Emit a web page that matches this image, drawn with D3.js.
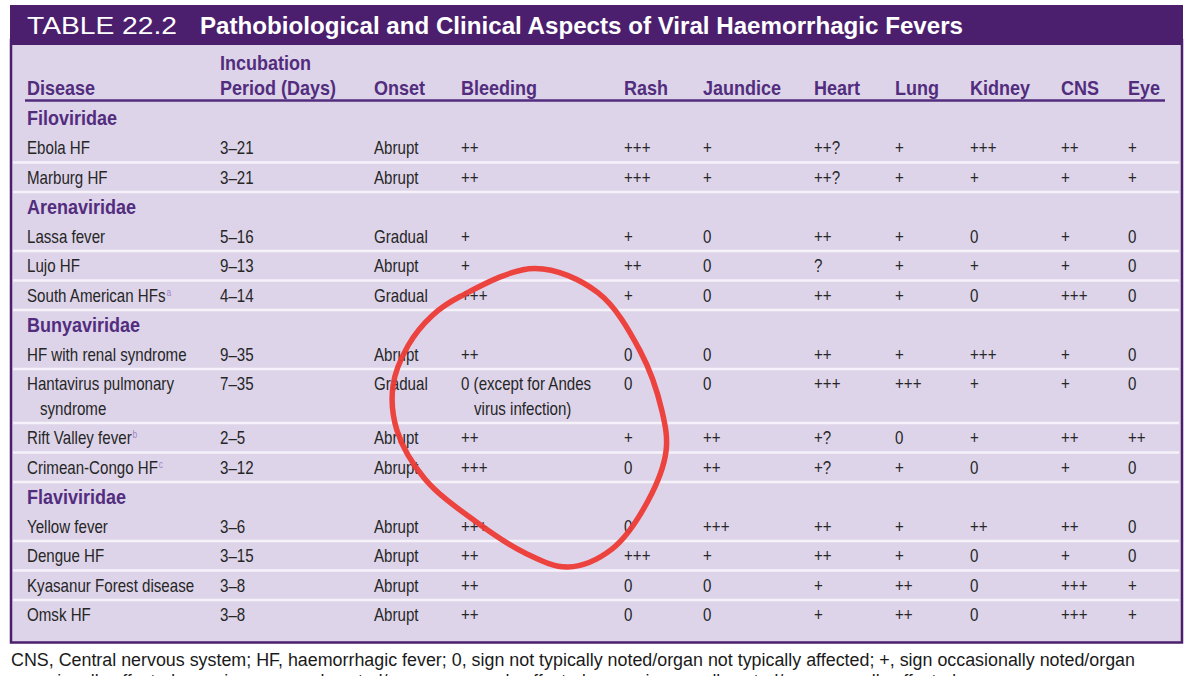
<!DOCTYPE html>
<html>
<head>
<meta charset="utf-8">
<script src="https://cdn.jsdelivr.net/npm/d3@7"></script>
<style>
body { margin: 0; background: #fff; }
svg { display: block; }
</style>
</head>
<body>
<svg id="drawing_region"></svg>
<script>
// table content
const tableNumber = 'TABLE 22.2'
const tableTitle = 'Pathobiological and Clinical Aspects of Viral Haemorrhagic Fevers'
const columns = ['Disease', 'Incubation', 'Onset', 'Bleeding', 'Rash', 'Jaundice', 'Heart', 'Lung', 'Kidney', 'CNS', 'Eye']
const headerLabels = [['Disease'], ['Incubation', 'Period (Days)'], ['Onset'], ['Bleeding'], ['Rash'], ['Jaundice'], ['Heart'], ['Lung'], ['Kidney'], ['CNS'], ['Eye']]
const families = ['Filoviridae', 'Arenaviridae', 'Bunyaviridae', 'Flaviviridae']
const diseases = ['Ebola HF', 'Marburg HF', 'Lassa fever', 'Lujo HF', 'South American HFs',
  'HF with renal syndrome', 'Hantavirus pulmonary\nsyndrome', 'Rift Valley fever', 'Crimean-Congo HF',
  'Yellow fever', 'Dengue HF', 'Kyasanur Forest disease', 'Omsk HF']
const diseaseFamily = [0, 0, 1, 1, 1, 2, 2, 2, 2, 3, 3, 3, 3]
const diseaseNote = ['', '', '', '', 'a', '', '', 'b', 'c', '', '', '', '']
const incubation = ['3–21', '3–21', '5–16', '9–13', '4–14', '9–35', '7–35', '2–5', '3–12', '3–6', '3–15', '3–8', '3–8']
const onset = ['Abrupt', 'Abrupt', 'Gradual', 'Abrupt', 'Gradual', 'Abrupt', 'Gradual', 'Abrupt', 'Abrupt', 'Abrupt', 'Abrupt', 'Abrupt', 'Abrupt']
const bleeding = ['++', '++', '+', '+', '+++', '++', '0 (except for Andes\nvirus infection)', '++', '+++', '+++', '++', '++', '++']
const rash = ['+++', '+++', '+', '++', '+', '0', '0', '+', '0', '0', '+++', '0', '0']
const jaundice = ['+', '+', '0', '0', '0', '0', '0', '++', '++', '+++', '+', '0', '0']
const heart = ['++?', '++?', '++', '?', '++', '++', '+++', '+?', '+?', '++', '++', '+', '+']
const lung = ['+', '+', '+', '+', '+', '+', '+++', '0', '+', '+', '+', '++', '++']
const kidney = ['+++', '+', '0', '+', '0', '+++', '+', '+', '0', '++', '0', '0', '0']
const cns = ['++', '+', '+', '+', '+++', '+', '+', '++', '+', '++', '+', '+++', '+++']
const eye = ['+', '+', '0', '0', '0', '0', '0', '++', '0', '0', '0', '+', '+']
const footnotes = [
  'CNS, Central nervous system; HF, haemorrhagic fever; 0, sign not typically noted/organ not typically affected; +, sign occasionally noted/organ',
  'occasionally affected; ++, sign commonly noted/organ commonly affected; +++, sign usually noted/organ usually affected.'
]
// hand drawn red loop, in units of the box it sits in
const loopShape = [[0.516, 0], [0.745, 0.081], [0.898, 0.275], [0.978, 0.477], [0.993, 0.611], [0.927, 0.779],
  [0.796, 0.94], [0.636, 1], [0.48, 0.953], [0.298, 0.846], [0.116, 0.705], [0.015, 0.544], [0, 0.393],
  [0.055, 0.258], [0.142, 0.158], [0.244, 0.094]]

class ClinicalTable {
  constructor(config) {
    this.config = {
      parent: config.parent,
      width: config.width || 1200,
      height: config.height || 676,
      colX: config.colX,
      rowStart: config.rowStart || 103,
      rowHeight: config.rowHeight || 29.5,
      lineGap: config.lineGap || 24.5
    }
    this.init()
  }

  init() {
    let self = this
    self.svg = d3.select(self.config.parent)
      .attr('width', self.config.width)
      .attr('height', self.config.height)

    self.purple = '#4b1f6e'
    self.ink = '#522d7e'
    self.font = '"Liberation Sans", Arial, Helvetica, sans-serif'

    self.xscale = d3.scaleOrdinal().domain(columns).range(self.config.colX)

    // build rows : family header then its diseases
    self.rows = []
    families.forEach((f, fi) => {
      self.rows.push({ key: f, type: 'family', label: f, first: fi === 0, lines: 1 })
      diseases.forEach((d, i) => {
        if (diseaseFamily[i] !== fi) return
        const cells = [d, incubation[i], onset[i], bleeding[i], rash[i], jaundice[i], heart[i], lung[i], kidney[i], cns[i], eye[i]]
        const lines = d3.max(cells, c => c.split('\n').length)
        const firstInGroup = diseaseFamily.indexOf(fi) === i
        self.rows.push({ key: d, type: 'disease', cells: cells, note: diseaseNote[i], first: firstInGroup, lines: lines })
      })
    })
    let top = self.config.rowStart
    self.rows.forEach(r => {
      r.top = top
      top += self.config.rowHeight + (r.lines - 1) * self.config.lineGap
    })
    self.tableBottom = top
    self.yscale = d3.scaleOrdinal().domain(self.rows.map(r => r.key)).range(self.rows.map(r => r.top))
  }

  // condensed look : squeeze the text sideways
  label(g, x, y, str, size, squeeze, bold, fill) {
    return g.append('text')
      .attr('transform', `translate(${x},${y}) scale(${squeeze},1)`)
      .attr('font-family', this.font)
      .attr('font-size', size)
      .attr('font-weight', bold ? 'bold' : 'normal')
      .attr('fill', fill)
      .text(str)
  }

  render() {
    let self = this
    const c = self.config

    // white page
    self.svg.append('rect').attr('width', c.width).attr('height', c.height).attr('fill', '#fff')

    // lavender panel with border
    self.svg.append('rect')
      .attr('x', 11).attr('y', 40)
      .attr('width', 1171).attr('height', self.tableBottom + 13 - 40)
      .attr('fill', '#ddd4e9')
      .attr('stroke', self.purple)
      .attr('stroke-width', 2.5)

    // title bar
    self.svg.append('rect')
      .attr('x', 10).attr('y', 5)
      .attr('width', 1173).attr('height', 40)
      .attr('fill', self.purple)

    self.svg.append('text')
      .attr('x', 27).attr('y', 34)
      .attr('fill', '#fff')
      .attr('font-family', self.font)
      .attr('font-size', 24)
      .attr('textLength', 150)
      .attr('lengthAdjust', 'spacingAndGlyphs')
      .text(tableNumber)

    self.svg.append('text')
      .attr('x', 200).attr('y', 34)
      .attr('fill', '#fff')
      .attr('font-family', self.font)
      .attr('font-weight', 'bold')
      .attr('font-size', 24)
      .attr('textLength', 763)
      .attr('lengthAdjust', 'spacingAndGlyphs')
      .text(tableTitle)

    // column headers
    const head = self.svg.append('g')
    columns.forEach((col, i) => {
      const lines = headerLabels[i]
      lines.forEach((l, j) => {
        self.label(head, self.xscale(col), 95 - (lines.length - 1 - j) * 25, l, 20, 0.9, true, self.ink)
      })
    })
    head.append('line')
      .attr('x1', 25).attr('x2', 1165)
      .attr('y1', 100.5).attr('y2', 100.5)
      .attr('stroke', self.ink)
      .attr('stroke-width', 2.5)

    // row separators
    self.svg.append('g').selectAll('line')
      .data(self.rows.filter(r => !r.first))
      .join('line')
      .attr('x1', 13).attr('x2', 1179)
      .attr('y1', r => self.yscale(r.key))
      .attr('y2', r => self.yscale(r.key))
      .attr('stroke', '#f6f2fa')
      .attr('stroke-width', 2.5)

    // family headers
    const fam = self.svg.append('g')
    self.rows.filter(r => r.type === 'family').forEach(r => {
      self.label(fam, self.xscale('Disease'), self.yscale(r.key) + c.rowHeight / 2 + 7, r.label, 20, 0.9, true, self.ink)
    })

    // disease cells
    const body = self.svg.append('g')
    self.rows.filter(r => r.type === 'disease').forEach(r => {
      const y0 = self.yscale(r.key) + c.rowHeight / 2 + 6.5
      r.cells.forEach((cell, ci) => {
        cell.split('\n').forEach((line, li) => {
          const t = self.label(body, self.xscale(columns[ci]) + (li > 0 ? 13 : 0), y0 + li * 25, line, 18, 0.84, false, '#262626')
          if (ci === 0 && li === 0 && r.note) {
            t.append('tspan')
              .attr('dx', 1)
              .attr('dy', -6)
              .attr('font-size', 10)
              .attr('fill', '#9f86c6')
              .text(r.note)
          }
        })
      })
    })

    // red hand drawn loop
    const bx = d3.scaleLinear().range([self.xscale('Onset') + 19, self.xscale('Jaundice') - 35])
    const by = d3.scaleLinear().range([self.yscale('South American HFs') - 12, self.yscale('Dengue HF') + 26])
    const loop = d3.line()
      .x(d => bx(d[0]))
      .y(d => by(d[1]))
      .curve(d3.curveCatmullRomClosed.alpha(0.5))
    self.svg.append('path')
      .attr('d', loop(loopShape))
      .attr('fill', 'none')
      .attr('stroke', '#ec3b36')
      .attr('stroke-width', 5.5)
      .attr('stroke-linecap', 'round')
      .attr('opacity', 0.95)

    // footnote (second line runs off the bottom edge like the scan)
    self.svg.append('g').selectAll('text')
      .data(footnotes)
      .join('text')
      .attr('x', 11)
      .attr('y', (d, i) => 666 + i * 21)
      .attr('fill', '#1a1a1a')
      .attr('font-family', self.font)
      .attr('font-size', 18)
      .attr('textLength', (d, i) => i === 0 ? 1124 : 950)
      .attr('lengthAdjust', 'spacingAndGlyphs')
      .text(d => d)
  }
}

const config = {
  parent: '#drawing_region',
  width: 1200,
  height: 676,
  colX: [27, 220, 374, 461, 624, 703, 814, 895, 970, 1061, 1128],
  rowStart: 103.5,
  rowHeight: 29.5,
  lineGap: 24.5
}
const table = new ClinicalTable(config)
table.render()
</script>
</body>
</html>
